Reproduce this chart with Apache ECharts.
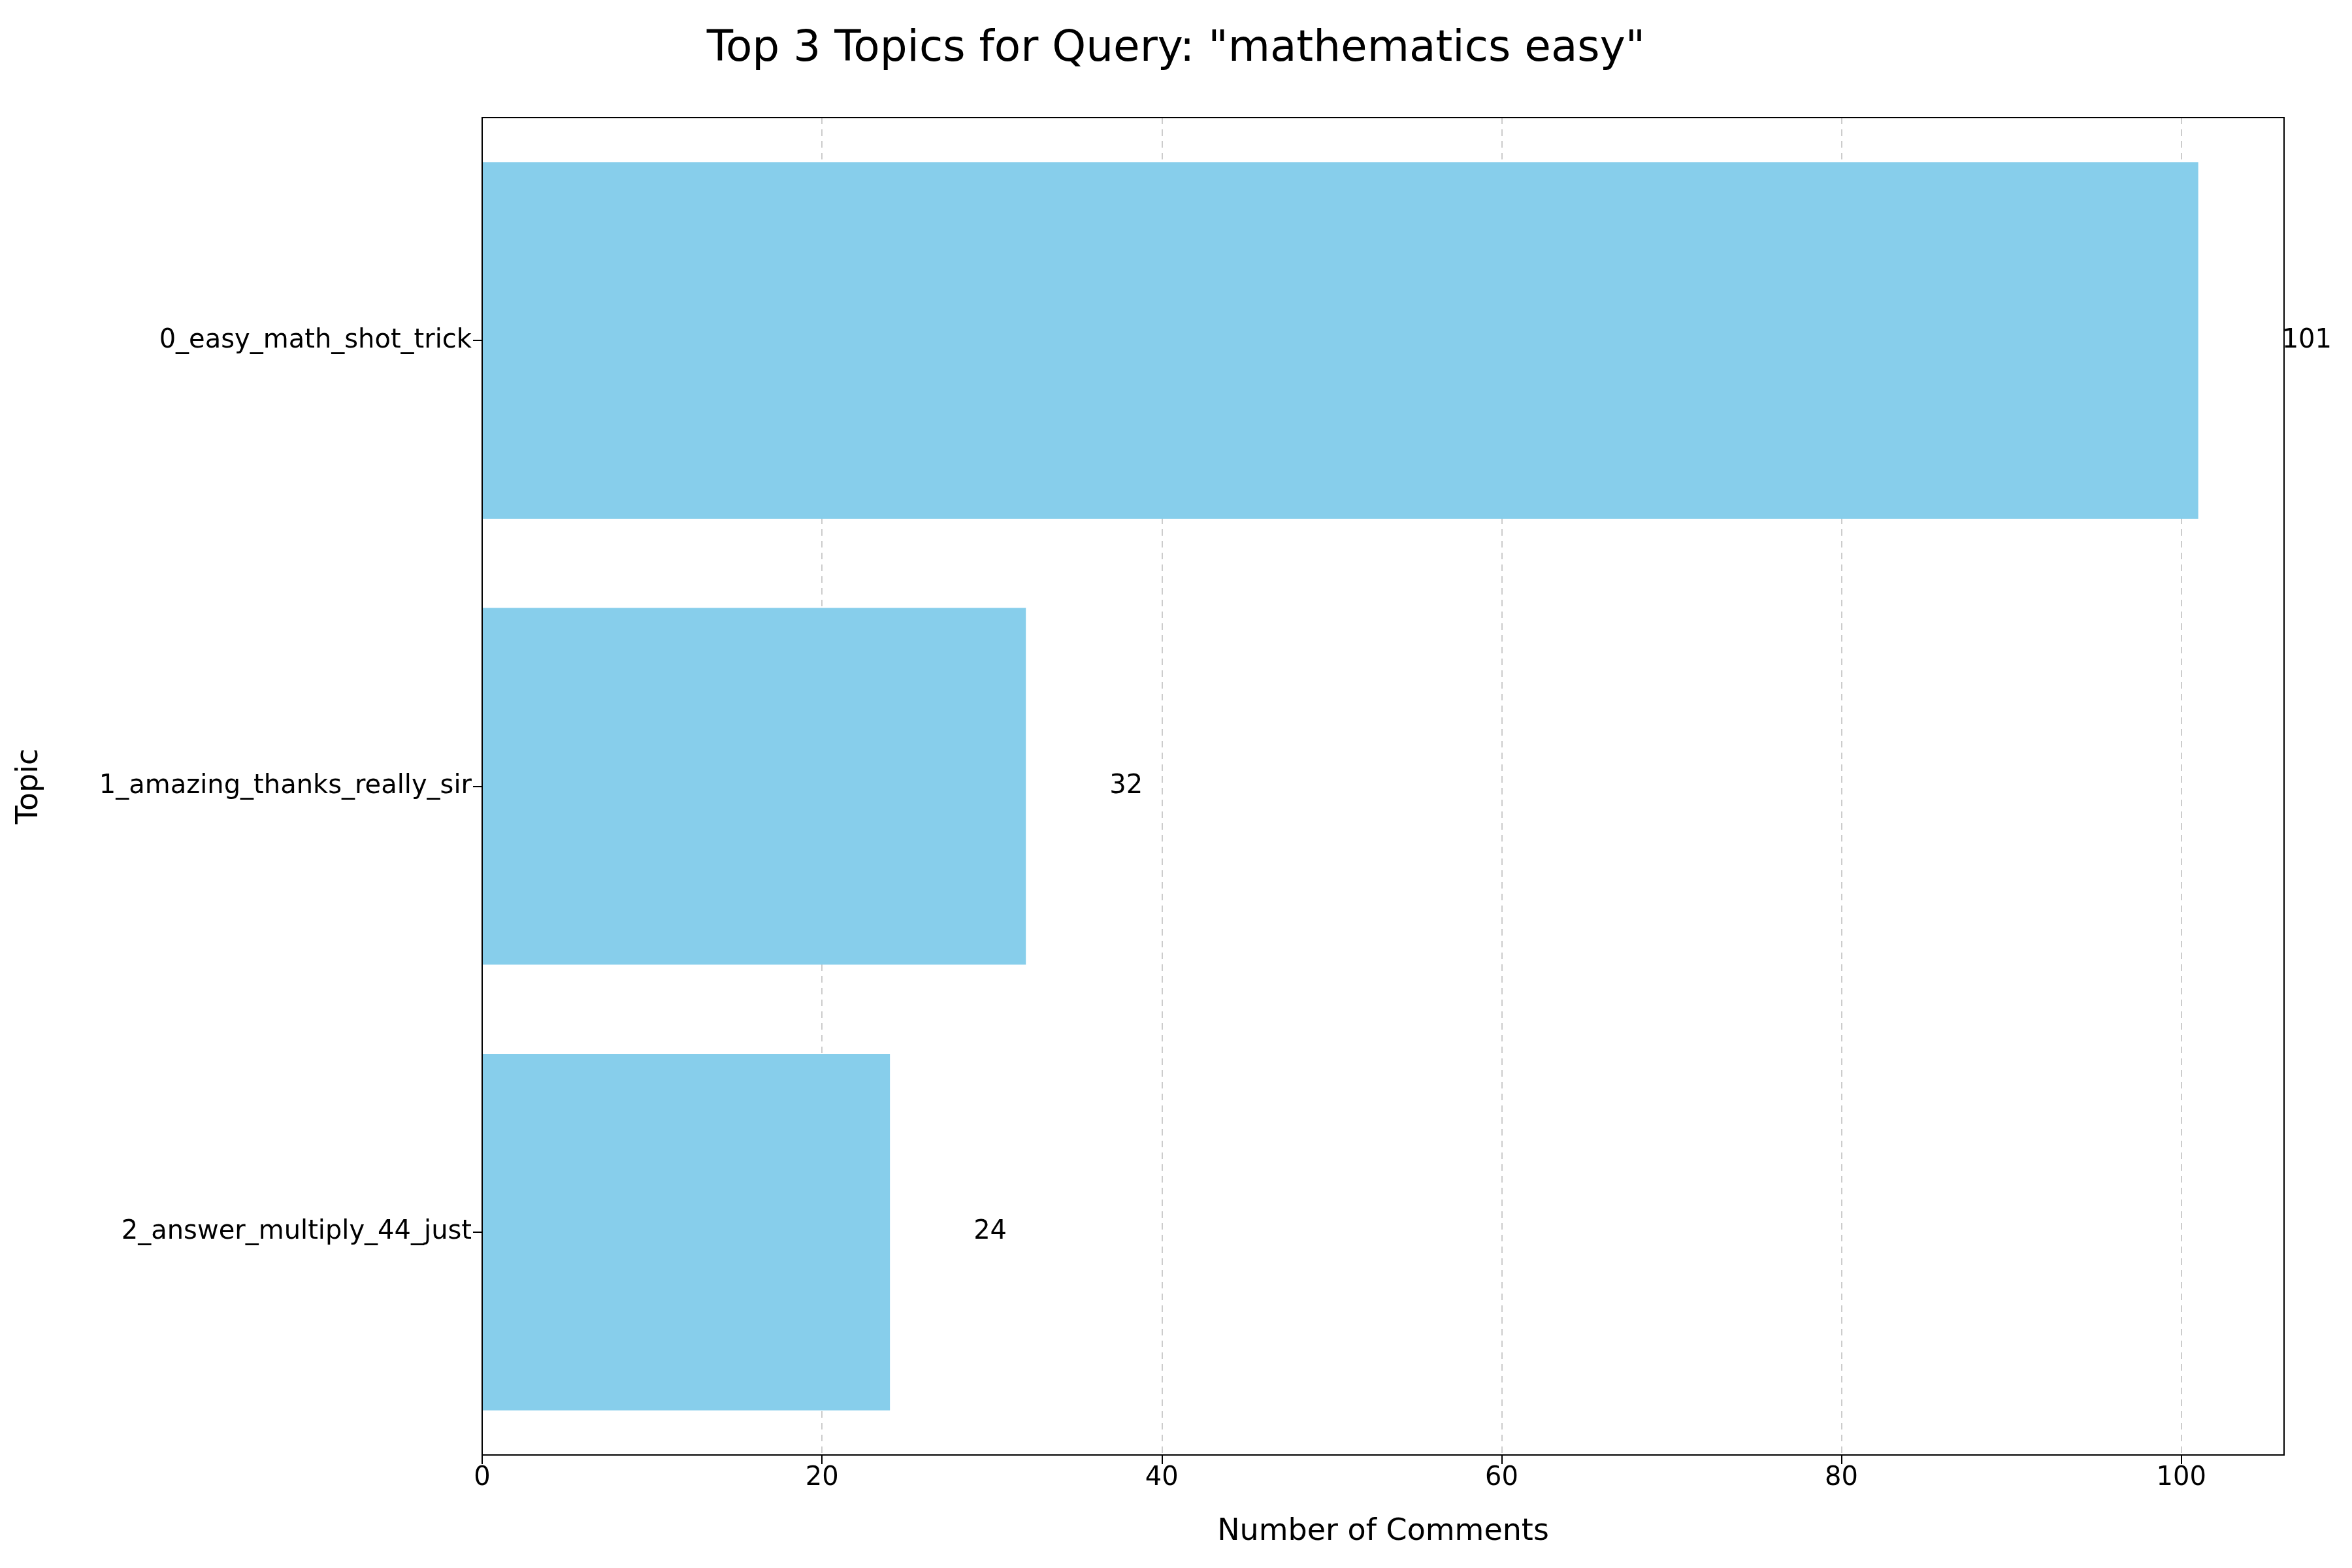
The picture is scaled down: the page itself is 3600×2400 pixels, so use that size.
<!DOCTYPE html>
<html>
<head>
<meta charset="utf-8">
<script src="https://cdn.jsdelivr.net/npm/echarts@6/dist/echarts.min.js"></script>
<style>
html, body { margin: 0; padding: 0; background: #fff; }
#chart { width: 3600px; height: 2400px; }
</style>
</head>
<body>
<div id="chart"></div>
<script>
var topics = ['0_easy_math_shot_trick', '1_amazing_thanks_really_sir', '2_answer_multiply_44_just'];
var counts = [101, 32, 24];
var xTicks = [0, 20, 40, 60, 80, 100];

var chart = echarts.init(document.getElementById('chart'));
var font = 'DejaVu Sans';
chart.setOption({
    animation: false,
    textStyle: { fontFamily: font },
    title: {
        text: 'Top 3 Topics for Query: "mathematics easy"',
        left: 'center',
        top: 38,
        textStyle: { fontFamily: font, fontSize: 66, fontWeight: 'normal', color: '#000' }
    },
    grid: { left: 738, right: 104, top: 180, bottom: 173 },
    xAxis: {
        type: 'value',
        min: 0,
        max: 106.05,
        interval: 20,
        name: 'Number of Comments',
        nameLocation: 'middle',
        nameGap: 95,
        nameTextStyle: { fontSize: 46, color: '#000' },
        axisLine: { show: true, lineStyle: { color: '#000', width: 2 } },
        axisTick: { show: true, length: 14, customValues: xTicks, lineStyle: { color: '#000', width: 2 } },
        axisLabel: { fontSize: 40, color: '#000', margin: 16, customValues: xTicks },
        splitLine: { show: true, lineStyle: { color: '#cccccc', type: [10, 8], width: 2 } }
    },
    yAxis: {
        type: 'category',
        data: topics,
        inverse: true,
        name: 'Topic',
        nameLocation: 'middle',
        nameGap: 670,
        nameRotate: 90,
        nameTextStyle: { fontSize: 46, color: '#000' },
        axisLine: { show: true, lineStyle: { color: '#000', width: 2 } },
        axisTick: { show: true, alignWithLabel: true, length: 14, lineStyle: { color: '#000', width: 2 } },
        axisLabel: { fontSize: 40, color: '#000', margin: 16 }
    },
    series: [{
        type: 'bar',
        data: counts,
        barCategoryGap: '20%',
        itemStyle: { color: '#87ceeb' },
        label: {
            show: true,
            position: 'right',
            distance: 128,
            fontSize: 40,
            color: '#000'
        }
    }],
    graphic: [{
        type: 'rect',
        shape: { x: 738, y: 180, width: 3600 - 738 - 104, height: 2400 - 180 - 173 },
        style: { fill: 'none', stroke: '#000', lineWidth: 2 },
        silent: true,
        z: 100
    }]
});
</script>
</body>
</html>
